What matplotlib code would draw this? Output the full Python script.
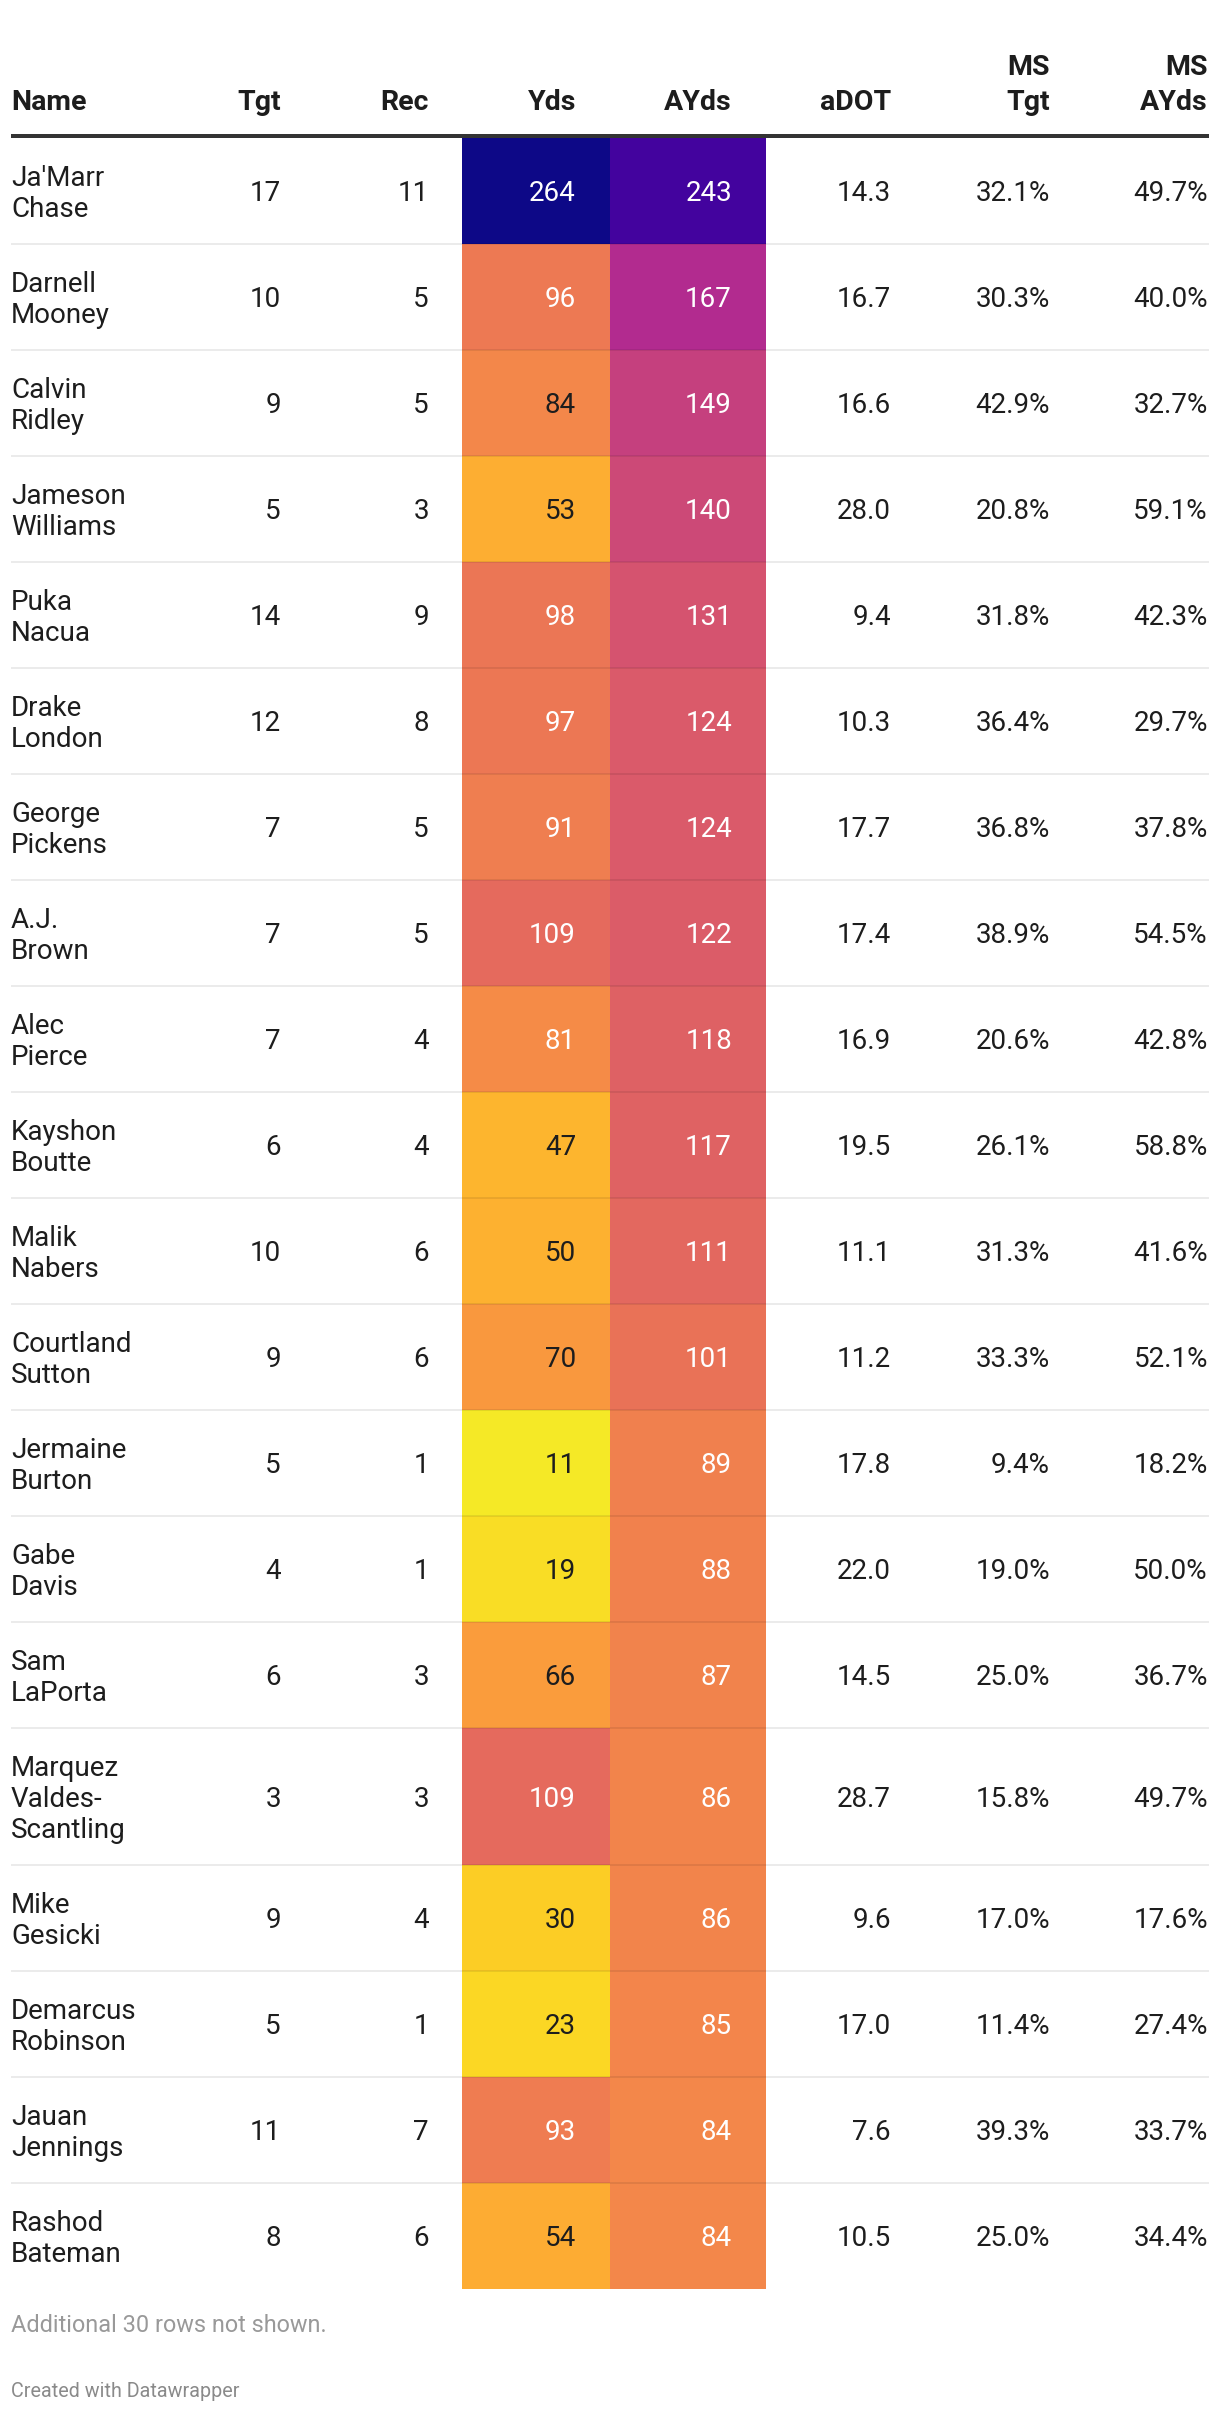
import textwrap
import matplotlib
matplotlib.use("Agg")
import matplotlib.pyplot as plt
from matplotlib.patches import Rectangle
from matplotlib.colors import Normalize, to_rgb
import numpy as np

# ---------------- data ----------------
names = ["Ja'Marr Chase", "Darnell Mooney", "Calvin Ridley", "Jameson Williams",
         "Puka Nacua", "Drake London", "George Pickens", "A.J. Brown",
         "Alec Pierce", "Kayshon Boutte", "Malik Nabers", "Courtland Sutton",
         "Jermaine Burton", "Gabe Davis", "Sam LaPorta", "Marquez Valdes-Scantling",
         "Mike Gesicki", "Demarcus Robinson", "Jauan Jennings", "Rashod Bateman"]
tgt = [17, 10, 9, 5, 14, 12, 7, 7, 7, 6, 10, 9, 5, 4, 6, 3, 9, 5, 11, 8]
rec = [11, 5, 5, 3, 9, 8, 5, 5, 4, 4, 6, 6, 1, 1, 3, 3, 4, 1, 7, 6]
yds = [264, 96, 84, 53, 98, 97, 91, 109, 81, 47, 50, 70, 11, 19, 66, 109, 30, 23, 93, 54]
ayds = [243, 167, 149, 140, 131, 124, 124, 122, 118, 117, 111, 101, 89, 88, 87, 86, 86, 85, 84, 84]
adot = [14.3, 16.7, 16.6, 28.0, 9.4, 10.3, 17.7, 17.4, 16.9, 19.5, 11.1, 11.2, 17.8, 22.0,
        14.5, 28.7, 9.6, 17.0, 7.6, 10.5]
ms_tgt = [32.1, 30.3, 42.9, 20.8, 31.8, 36.4, 36.8, 38.9, 20.6, 26.1, 31.3, 33.3, 9.4, 19.0,
          25.0, 15.8, 17.0, 11.4, 39.3, 25.0]
ms_ayds = [49.7, 40.0, 32.7, 59.1, 42.3, 29.7, 37.8, 54.5, 42.8, 58.8, 41.6, 52.1, 18.2, 50.0,
           36.7, 49.7, 17.6, 27.4, 33.7, 34.4]
headers = ["Name", "Tgt", "Rec", "Yds", "AYds", "aDOT", "MS\nTgt", "MS\nAYds"]
note = "Additional 30 rows not shown."
credit = "Created with Datawrapper"

# ---------------- layout ----------------
W, H = 1220, 2414
fig = plt.figure(figsize=(W / 100, H / 100), dpi=100)
ax = fig.add_axes([0, 0, 1, 1])
ax.set_xlim(0, W)
ax.set_ylim(H, 0)
ax.axis("off")

FONT = "Roboto"
FS = 20.0          # body font (pt)
HFS = 20.5         # header font
PX = 100 / 72      # px per pt
LINE = 31          # line height px
CAP = 0.711 * FS * PX
TXT = "#1d1d1d"

left_x = 11
right_x = [281, 429, 576, 732, 891, 1050, 1208]
heat_cols = {3: (462, 610), 4: (610, 766)}   # Yds, AYds cell spans (column index in headers)

# header
for j, h in enumerate(headers):
    lines = h.split("\n")
    for k, ln in enumerate(reversed(lines)):
        yb = 110 - k * 35
        if j == 0:
            ax.text(left_x, yb, ln, ha="left", va="baseline", fontsize=HFS,
                    fontweight="bold", family=FONT, color=TXT)
        else:
            ax.text(right_x[j - 1], yb, ln, ha="right", va="baseline", fontsize=HFS,
                    fontweight="bold", family=FONT, color=TXT)
ax.plot([11, 1209], [136.3, 136.3], color="#333333", lw=4 * 72 / 100,
        solid_capstyle="butt")

# colour scale (shared by Yds & AYds)
cmap = plt.get_cmap("plasma")
norm = Normalize(vmin=0, vmax=max(max(yds), max(ayds)))


def heat_color(v):
    u = 1 - norm(v)
    return cmap(u ** 0.9)


def lum(c):
    r, g, b = to_rgb(c)
    f = lambda x: x / 12.92 if x <= 0.03928 else ((x + 0.055) / 1.055) ** 2.4
    return 0.2126 * f(r) + 0.7152 * f(g) + 0.0722 * f(b)


y = 138.3
seps = []
for i, nm in enumerate(names):
    nlines = textwrap.wrap(nm, 9, break_on_hyphens=True)
    h = 106 + (len(nlines) - 2) * LINE
    cy = y + h / 2
    # heat cells
    for col, vals in ((3, yds), (4, ayds)):
        x0, x1 = heat_cols[col]
        c = heat_color(vals[i])
        ax.add_patch(Rectangle((x0, y), x1 - x0, h, facecolor=c, edgecolor="none", zorder=1))
    # name
    n = len(nlines)
    for k, ln in enumerate(nlines):
        yb = cy + (k - (n - 1) / 2) * LINE + CAP / 2
        ax.text(left_x, yb, ln, ha="left", va="baseline", fontsize=FS, family=FONT,
                color=TXT, zorder=3)
    row_vals = [f"{tgt[i]}", f"{rec[i]}", f"{yds[i]}", f"{ayds[i]}", f"{adot[i]:.1f}",
                f"{ms_tgt[i]:.1f}%", f"{ms_ayds[i]:.1f}%"]
    for j, s in enumerate(row_vals):
        col = j + 1
        color = TXT
        if col in heat_cols:
            v = (yds if col == 3 else ayds)[i]
            color = "white" if (col == 4 or v >= 81 and v != 84) else TXT
        ax.text(right_x[j], cy + CAP / 2, s, ha="right", va="baseline", fontsize=FS,
                family=FONT, color=color, zorder=3)
    y += h
    if i < len(names) - 1:
        ax.plot([11, 1209], [y, y], color=(0, 0, 0, 0.08), lw=2 * 0.72,
                solid_capstyle="butt", zorder=2)

ax.text(left_x, 2331.7, note, ha="left", va="baseline", fontsize=16.9, family=FONT,
        color="#999999")
ax.text(left_x, 2397, credit, ha="left", va="baseline", fontsize=14.2, family=FONT,
        color="#8a8a8a")

fig.savefig("out.png", dpi=100, facecolor="white")
